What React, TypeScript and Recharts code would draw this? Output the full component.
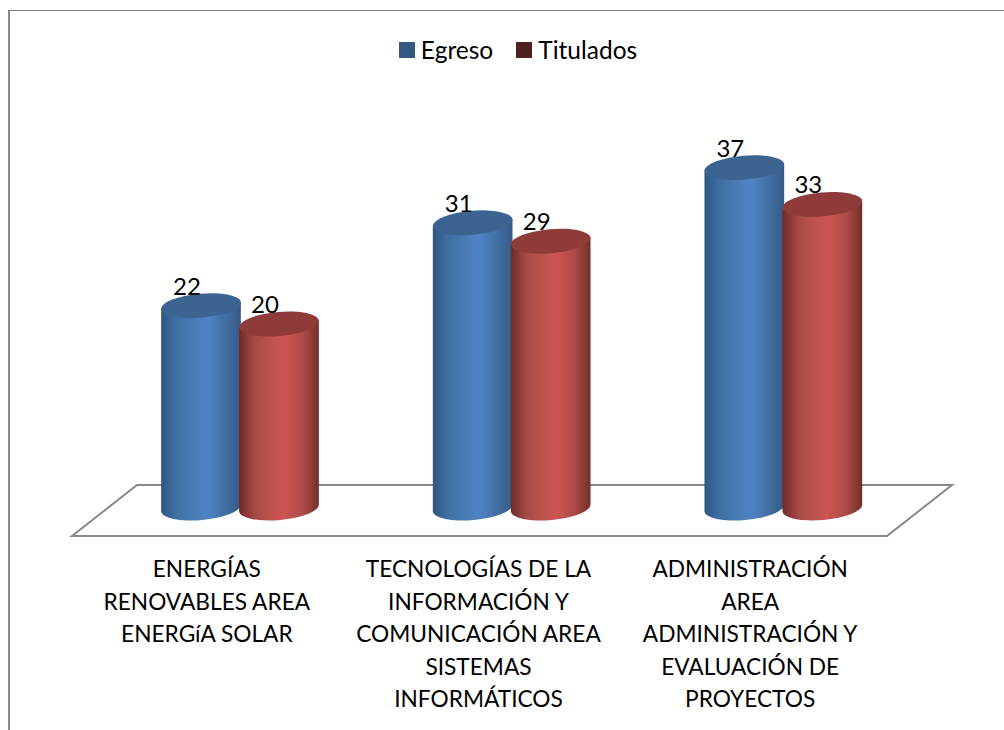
import { BarChart, Bar, XAxis, YAxis, Legend, LabelList, usePlotArea } from 'recharts';

const categories = ['ENERGÍAS RENOVABLES', 'TECNOLOGÍAS', 'ADMINISTRACIÓN'];
const tickLines = [
  ['ENERGÍAS', 'RENOVABLES AREA', 'ENERGíA SOLAR'],
  ['TECNOLOGÍAS DE LA', 'INFORMACIÓN Y', 'COMUNICACIÓN AREA', 'SISTEMAS', 'INFORMÁTICOS'],
  ['ADMINISTRACIÓN', 'AREA', 'ADMINISTRACIÓN Y', 'EVALUACIÓN DE', 'PROYECTOS'],
];
const egreso = [22, 31, 37];
const titulados = [20, 29, 33];

const chartData = categories.map((name, i) => ({
  name,
  egreso: egreso[i],
  titulados: titulados[i],
}));

const FONT = 'Lato, "Open Sans", sans-serif';
const TILT = -5;
const RY = 12;
// the labels in the original sit left of their bars
const TICK_SHIFT = -33;

function Cylinder({ x, y, width, height, fill, topColor }: any) {
  const rx = width / 2;
  const cx = x + rx;
  const dy = rx * Math.sin((-TILT * Math.PI) / 180);
  const dx = rx * Math.cos((TILT * Math.PI) / 180);
  const body = `M${cx - dx},${y + dy} L${cx - dx},${y + height + dy} A${rx},${RY} ${TILT} 0 0 ${cx + dx},${y + height - dy} L${cx + dx},${y - dy} Z`;
  return (
    <g>
      <path d={body} fill={fill} />
      <ellipse cx={cx} cy={y} rx={rx} ry={RY} fill={topColor} transform={`rotate(${TILT} ${cx} ${y})`} />
    </g>
  );
}

function Floor() {
  const plot = usePlotArea();
  if (!plot) return null;
  const left = plot.x;
  const right = plot.x + plot.width;
  const base = plot.y + plot.height;
  const pts = [
    [left + 33, base - 23],
    [right + 33, base - 23],
    [right - 32, base + 28],
    [left - 32, base + 28],
  ];
  return <polygon points={pts.map((p) => p.join(',')).join(' ')} fill="#fff" stroke="#898989" strokeWidth={2} />;
}

function CategoryTick({ x, payload, index }: any) {
  const idx = payload?.index ?? index;
  const lines = tickLines[idx] || [];
  const tx = x + TICK_SHIFT;
  return (
    <text x={tx} y={577} textAnchor="middle" fontFamily={FONT} fontSize={22.7} fill="#000">
      {lines.map((line, i) => (
        <tspan key={line + i} x={tx} y={577 + i * 32.6}>
          {line}
        </tspan>
      ))}
    </text>
  );
}

function ValueLabel({ x, y, width, value }: any) {
  return (
    <text x={x + width / 2 - 14} y={y - 11} textAnchor="middle" fontFamily={FONT} fontSize={24} fill="#000">
      {value}
    </text>
  );
}

const SWATCHES = ['#34587f', '#4c2120'];

function LegendContent({ payload }: any) {
  return (
    <div style={{ display: 'flex', justifyContent: 'center', alignItems: 'center', fontFamily: FONT, fontSize: 24.5, color: '#000' }}>
      {(payload || []).map((item: any, i: number) => (
        <div key={item.value} style={{ display: 'flex', alignItems: 'center', marginRight: i === 0 ? 23 : 0 }}>
          <span style={{ display: 'inline-block', width: 16, height: 16, marginRight: 6, background: SWATCHES[i] }} />
          {item.value}
        </div>
      ))}
    </div>
  );
}

export default function App() {
  return (
    <div style={{ position: 'absolute', left: 0, top: 0, width: 1004, height: 730, overflow: 'hidden', background: '#fff' }}>
      <div
        style={{
          position: 'absolute',
          left: 8,
          top: 10,
          width: 996,
          height: 730,
          borderLeft: '2px solid #8a8a8a',
          borderTop: '1px solid #808080',
          boxSizing: 'border-box',
        }}
      />
      <div style={{ position: 'absolute', left: 0, top: 0 }}>
        <BarChart
          width={1004}
          height={730}
          data={chartData}
          margin={{ top: 140, right: 85, bottom: 0, left: 104 }}
          barSize={80}
          barGap={-2}
        >
          <defs>
            <linearGradient id="blueBody" x1="0" x2="1" y1="0" y2="0">
              <stop offset="0%" stopColor="#2f5680" />
              <stop offset="18%" stopColor="#3f6ea3" />
              <stop offset="58%" stopColor="#4f84c4" />
              <stop offset="85%" stopColor="#3f6a9d" />
              <stop offset="100%" stopColor="#365a85" />
            </linearGradient>
            <linearGradient id="redBody" x1="0" x2="1" y1="0" y2="0">
              <stop offset="0%" stopColor="#6e2a28" />
              <stop offset="20%" stopColor="#a84a47" />
              <stop offset="55%" stopColor="#cd5653" />
              <stop offset="80%" stopColor="#ae4b48" />
              <stop offset="100%" stopColor="#722d2b" />
            </linearGradient>
          </defs>
          <Floor />
          <XAxis dataKey="name" axisLine={false} tickLine={false} height={222} interval={0} tick={<CategoryTick />} />
          <YAxis hide domain={[0, 40]} />
          <Legend
            layout="horizontal"
            verticalAlign="middle"
            align="center"
            content={<LegendContent />}
            wrapperStyle={{ top: 35, left: 0, width: 1036 }}
          />
          <Bar
            dataKey="egreso"
            name="Egreso"
            fill="url(#blueBody)"
            isAnimationActive={false}
            shape={(p: any) => <Cylinder {...p} topColor="#3b6491" />}
          >
            <LabelList dataKey="egreso" content={<ValueLabel />} />
          </Bar>
          <Bar
            dataKey="titulados"
            name="Titulados"
            fill="url(#redBody)"
            isAnimationActive={false}
            shape={(p: any) => <Cylinder {...p} topColor="#8e3b39" />}
          >
            <LabelList dataKey="titulados" content={<ValueLabel />} />
          </Bar>
        </BarChart>
      </div>
    </div>
  );
}
